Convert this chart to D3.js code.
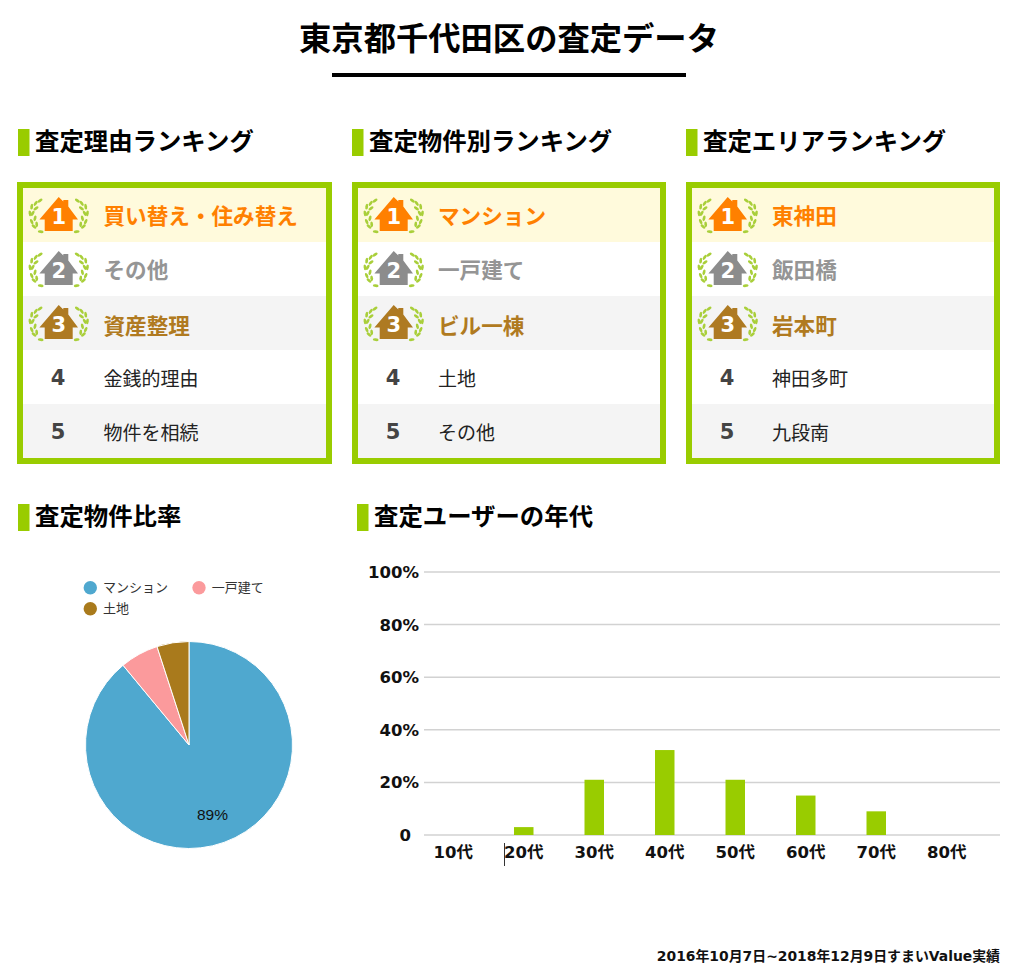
<!DOCTYPE html>
<html lang="ja"><head><meta charset="utf-8">
<script src="https://cdn.jsdelivr.net/npm/d3@7"></script>
<style>html,body{margin:0;padding:0;background:#fff}svg{display:block}text{font-family:"DejaVu Sans","Noto Sans CJK JP",sans-serif}</style>
</head><body><svg id="c" width="1024" height="979"></svg>
<script>
const title = "東京都千代田区の査定データ";
const panelTitles = ["査定理由ランキング","査定物件別ランキング","査定エリアランキング"];
const reasonItems = ["買い替え・住み替え","その他","資産整理","金銭的理由","物件を相続"];
const propertyItems = ["マンション","一戸建て","ビル一棟","土地","その他"];
const areaItems = ["東神田","飯田橋","岩本町","神田多町","九段南"];
const pieLabels = ["マンション","一戸建て","土地"];
const pieValues = [89,6,5];
const pieColors = ["#4fa8cf","#fb9a9c","#a97a1c"];
const ageLabels = ["10代","20代","30代","40代","50代","60代","70代","80代"];
const ageValues = [0,3,21,32.3,21,15,9,0];
const yTicks = [0,20,40,60,80,100];
const rankColors = ["#ff8000","#8c8c8c","#ae7a22"];
const rankText = ["#ff8000","#959595","#b07a20"];
const rowBg = ["#fffadc","#ffffff","#f4f4f4","#ffffff","#f4f4f4"];
const green = "#99cc00";
const cjk = '"Noto Sans CJK JP",sans-serif';

const svg = d3.select("#c");
svg.append("text").attr("x",509).attr("y",49.5).attr("text-anchor","middle")
  .style("font-family",cjk).attr("font-size",32.3).attr("font-weight",700).attr("fill","#000").text(title);
svg.append("rect").attr("x",332).attr("y",73).attr("width",354).attr("height",4).attr("fill","#000");

function header(x,y,t){
  svg.append("rect").attr("x",x).attr("y",y).attr("width",11.5).attr("height",27).attr("fill",green);
  svg.append("text").attr("x",x+17).attr("y",y+20.5).style("font-family",cjk)
    .attr("font-size",24.4).attr("font-weight",700).attr("fill","#000").text(t);
}
const housePath = "M0,-18L4.6,-13.5V-15H9.6V-8.5L19.3,4.5H14V16H-14V4.5H-19.3Z";
const leaves = [[-18.7,-14.3,55],[-23,-11.7,35],[-22.7,-6.7,55],[-27,-8.3,8],[-26,-1.7,30],[-28.7,-1.7,-8],[-23.7,3.3,15],[-27,6.7,-25],[-22,9.3,-5],[-24.7,11.5,-50],[-18,16.7,-85]];
function icon(g,i){
  g.selectAll("ellipse.l").data(leaves.concat(leaves.map(d=>[-d[0],d[1],-d[2]]))).join("ellipse")
    .attr("rx",1.4).attr("ry",2.9).attr("fill","#a9cf3a")
    .attr("transform",d=>`translate(${d[0]},${d[1]}) rotate(${d[2]})`);
  g.append("path").attr("d",housePath).attr("fill",rankColors[i]);
  g.append("text").attr("y",9).attr("text-anchor","middle").attr("font-size",21).attr("font-weight",700).attr("fill","#fff").text(i+1);
}
const rowY = d3.scaleLinear().domain([0,5]).range([188,458]);
function panel(x,t,items){
  const w = x===17?315:314;
  header(x+(x===17?1:0),129,t);
  svg.append("rect").attr("x",x+3).attr("y",185).attr("width",w-6).attr("height",276)
    .attr("fill","#fff").attr("stroke",green).attr("stroke-width",6);
  items.forEach((s,i)=>{
    const y0=rowY(i), y1=rowY(i+1), cy=(y0+y1)/2;
    svg.append("rect").attr("x",x+6).attr("y",y0).attr("width",w-12).attr("height",y1-y0).attr("fill",rowBg[i]);
    if(i<3){
      icon(svg.append("g").attr("transform",`translate(${x+41.7},${y0+27})`),i);
    } else {
      svg.append("text").attr("x",x+41).attr("y",cy+8).attr("text-anchor","middle")
        .attr("font-size",21).attr("font-weight",700).attr("fill","#444").text(i+1);
    }
    svg.append("text").attr("x",x+(x===17?86.5:86)).attr("y",cy+(i===2?10.5:i<3?9:8.5)).style("font-family",cjk)
      .attr("font-size",i<3?21.6:19).attr("font-weight",i<3?700:400)
      .attr("fill",i<3?rankText[i]:"#222").text(s);
  });
}
panel(17,panelTitles[0],reasonItems);
panel(352,panelTitles[1],propertyItems);
panel(686,panelTitles[2],areaItems);

header(18,504,"査定物件比率");
header(357,504,"査定ユーザーの年代");

// pie
const pie = d3.pie().sort(null)(pieValues);
const arc = d3.arc().innerRadius(0).outerRadius(103.5);
const pg = svg.append("g").attr("transform","translate(189,745)");
pg.selectAll("path").data(pie).join("path").attr("d",arc).attr("fill",(d,i)=>pieColors[i]).attr("stroke","#fff").attr("stroke-width",1);
pg.append("text").attr("x",23.5).attr("y",75).attr("text-anchor","middle").style("font-family",'"Liberation Sans",sans-serif')
  .attr("font-size",15.5).attr("fill","#111").text(pieValues[0]+"%");
const lx=[90.3,199,90.3], ly=[587.7,587.7,608.7];
pieLabels.forEach((s,i)=>{
  svg.append("circle").attr("cx",lx[i]).attr("cy",ly[i]).attr("r",6.7).attr("fill",pieColors[i]);
  svg.append("text").attr("x",lx[i]+12.8).attr("y",ly[i]+4.5).style("font-family",cjk).attr("font-size",13).attr("fill","#333").text(s);
});

// bars
const y = d3.scaleLinear().domain([0,100]).range([835,572]);
const x = d3.scaleBand().domain(ageLabels).range([418,982]).padding(0);
const fmt = d=>d===0?"0":d+"%";
svg.append("g").selectAll("line").data(yTicks).join("line")
  .attr("x1",424).attr("x2",1000).attr("y1",d=>y(d)).attr("y2",d=>y(d)).attr("stroke","#d2d2d2").attr("stroke-width",1.5);
svg.append("g").selectAll("text").data(yTicks).join("text")
  .attr("x",d=>d===0?411:419).attr("y",d=>y(d)+6).attr("text-anchor","end").attr("font-size",16.5).attr("font-weight",700).attr("fill","#111").text(fmt);
svg.append("g").selectAll("rect").data(ageValues).join("rect")
  .attr("x",(d,i)=>x(ageLabels[i])+x.bandwidth()/2-9.75).attr("width",19.5)
  .attr("y",d=>y(d)).attr("height",d=>y(0)-y(d)).attr("fill",green);
svg.append("g").selectAll("text").data(ageLabels).join("text")
  .attr("x",d=>x(d)+x.bandwidth()/2).attr("y",858).attr("text-anchor","middle").attr("font-size",16.5).attr("font-weight",700).attr("fill","#111").text(d=>d);
svg.append("line").attr("x1",504.5).attr("x2",504.5).attr("y1",843).attr("y2",866).attr("stroke","#333").attr("stroke-width",1);

svg.append("text").attr("x",1000).attr("y",961).attr("text-anchor","end").attr("font-size",13.9).attr("font-weight",700).attr("fill","#111")
  .text("2016年10月7日~2018年12月9日すまいValue実績");
</script></body></html>
